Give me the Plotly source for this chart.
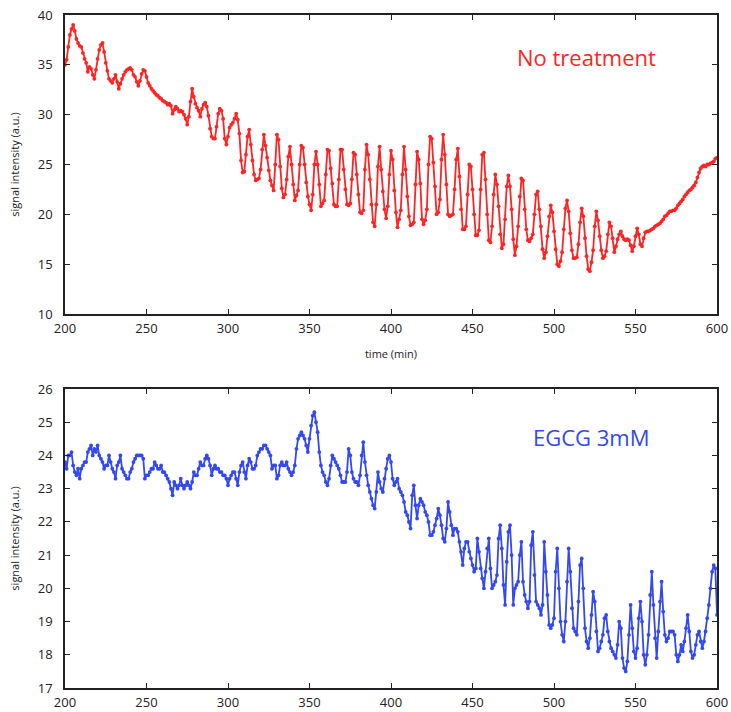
import plotly.graph_objects as go

time_min = list(range(200, 601))

no_treatment = [
    35.0, 35.5, 36.8, 38.0, 38.6, 39.0, 38.4, 37.6, 37.2, 36.9,
    36.8, 36.2, 35.6, 35.2, 34.3, 34.8, 34.6, 34.0, 33.6, 34.5,
    35.6, 36.5, 37.0, 37.2, 36.3, 35.2, 34.4, 33.6, 33.4, 33.2,
    33.6, 34.0, 33.3, 32.6, 33.1, 33.6, 34.0, 34.3, 34.5, 34.6,
    34.7, 34.5, 34.0, 33.8, 33.3, 32.9, 33.4, 34.1, 34.5, 34.4,
    33.8, 33.2, 32.9, 32.6, 32.4, 32.2, 32.0, 31.9, 31.7, 31.6,
    31.4, 31.3, 31.2, 31.0, 31.1, 30.9, 30.1, 30.5, 30.8, 30.6,
    30.3, 30.4, 30.3, 30.0, 29.6, 29.0, 29.8, 31.3, 32.6, 31.8,
    31.1, 30.7, 30.4, 29.8, 30.6, 31.0, 31.2, 30.8, 29.9, 28.6,
    27.8, 27.6, 27.6, 28.8, 30.1, 30.6, 30.4, 29.6, 27.6, 27.0,
    27.8, 28.7, 29.0, 29.2, 29.6, 30.1, 29.5, 28.1, 25.4, 24.2,
    24.3, 26.0, 27.8, 28.5, 27.0, 25.4, 24.0, 23.4, 23.5, 23.6,
    24.5, 26.5, 28.0, 26.9, 25.7, 24.4, 23.4, 22.9, 22.4, 25.0,
    28.0, 27.5, 24.8, 22.6, 21.7, 22.0, 23.5, 25.8, 26.8, 25.0,
    23.0, 21.4, 21.9, 22.4, 25.0, 26.9, 26.7, 25.0, 23.2, 21.8,
    21.0, 20.4, 22.0, 25.0, 26.3, 25.0, 23.0, 20.8, 21.1, 21.4,
    24.0, 26.5, 26.4, 24.6, 23.1, 21.0, 20.8, 20.8, 23.5, 26.5,
    26.5, 24.5, 22.5, 21.0, 20.9, 21.1, 23.5, 26.2, 26.0, 24.0,
    22.0, 20.2, 20.1, 20.4, 24.5, 27.0, 26.0, 23.5, 21.0, 19.2,
    18.8, 21.0, 24.8, 26.8, 24.5, 22.3, 20.5, 19.6, 20.8, 24.0,
    26.4, 25.5, 22.4, 20.2, 18.7, 19.5, 20.4, 24.0, 26.8, 24.5,
    21.8, 19.8, 18.9, 19.0, 19.2, 23.0, 26.3, 25.5, 23.1, 19.5,
    19.0, 19.4, 20.5, 25.0, 27.8, 27.6, 25.2, 22.8, 20.0, 20.2,
    21.5, 25.5, 28.0, 26.0, 23.0, 20.0, 19.8, 19.9, 20.0, 22.5,
    25.5, 26.6, 23.8, 20.5, 18.5, 18.5, 18.8, 22.0, 25.0, 24.8,
    22.5, 20.0, 17.9, 17.9, 18.4, 22.5, 26.0, 26.2, 23.5, 20.0,
    17.4, 17.2, 18.8, 22.0, 24.0, 23.0, 20.8, 18.0, 16.6, 17.0,
    19.5, 22.8, 23.9, 22.8, 20.5, 17.5, 15.9, 16.8, 18.8, 21.8,
    23.6, 23.4, 20.5, 18.5, 17.4, 17.3, 17.6, 18.0, 20.0, 22.0,
    22.3, 20.5, 18.8, 16.5, 15.6, 16.2, 17.8, 19.8, 20.9, 20.2,
    18.3, 16.5, 15.0, 14.8, 15.3, 16.2, 18.5, 20.6, 21.4, 20.3,
    18.1, 16.4, 15.6, 15.6, 15.7, 17.0, 19.2, 20.6, 19.8, 17.6,
    15.8, 14.5, 14.3, 15.2, 16.4, 18.8, 20.3, 19.4, 17.8, 16.4,
    15.6, 15.8, 16.3, 18.0, 19.2, 18.8, 17.6, 16.2, 16.8, 17.5,
    18.0, 18.3, 17.8, 17.5, 17.4, 17.5, 17.4, 16.9, 16.3, 16.8,
    17.8, 18.6, 18.0, 17.0, 16.8, 17.6, 18.2, 18.3, 18.3, 18.4,
    18.5, 18.6, 18.8, 18.9, 19.0, 19.1, 19.3, 19.5, 19.8, 19.9,
    20.1, 20.3, 20.3, 20.4, 20.4, 20.6, 20.9, 21.1, 21.3, 21.5,
    21.8, 22.0, 22.2, 22.4, 22.5, 22.7, 22.9, 23.2, 23.7, 24.2,
    24.6, 24.8, 24.9, 24.8, 25.0, 25.0, 25.1, 25.2, 25.3, 25.6,
    25.7,
]

egcg_3mm = [
    23.8, 23.6, 24.0, 24.0, 24.1, 23.7, 23.5, 23.4, 23.6, 23.3,
    23.6, 23.7, 23.8, 23.8, 24.1, 24.2, 24.3, 24.0, 24.2, 24.1,
    24.3, 24.0, 23.9, 23.8, 23.6, 23.7, 23.7, 24.0, 23.8, 23.6,
    23.5, 23.3, 23.7, 23.8, 24.0, 23.6, 23.5, 23.4, 23.3, 23.3,
    23.5, 23.6, 23.8, 23.9, 24.0, 24.0, 24.0, 24.0, 23.9, 23.3,
    23.4, 23.4, 23.5, 23.6, 23.6, 23.8, 23.7, 23.6, 23.6, 23.7,
    23.5, 23.5, 23.4, 23.3, 23.2, 23.0, 22.8, 23.2, 23.1, 23.0,
    23.1, 23.3, 23.1, 23.0, 23.1, 23.2, 23.1, 23.0, 23.2, 23.5,
    23.4, 23.4, 23.6, 23.8, 23.7, 23.7, 23.9, 24.0, 23.9, 23.7,
    23.4, 23.6, 23.7, 23.6, 23.6, 23.5, 23.5, 23.4, 23.4, 23.3,
    23.1, 23.3, 23.4, 23.5, 23.5, 23.3, 23.1, 23.5, 23.7, 23.8,
    23.5, 23.3, 23.7, 23.9, 23.8, 23.6, 23.6, 23.7, 24.0, 24.1,
    24.2, 24.2, 24.3, 24.3, 24.2, 24.1, 24.0, 23.6, 23.7, 23.7,
    23.3, 23.4, 23.7, 23.8, 23.7, 23.7, 23.8, 23.6, 23.5, 23.4,
    23.5, 23.7, 24.2, 24.5, 24.6, 24.7, 24.6, 24.5, 24.3, 24.1,
    24.5, 24.9, 25.2, 25.3, 25.0, 24.7, 24.1, 23.7, 23.5, 23.4,
    23.2, 23.1, 23.3, 23.7, 24.0, 23.9, 23.8, 23.7, 23.6, 23.4,
    23.2, 23.2, 23.2, 23.5, 24.2, 24.0, 23.5, 23.3, 23.2, 23.2,
    23.1, 23.4, 24.0, 24.4, 23.8, 23.4, 23.1, 22.9, 22.7, 22.5,
    22.4, 22.9, 23.5, 23.2, 23.0, 22.9, 23.3, 23.6, 23.9, 24.0,
    23.8, 23.3, 23.1, 23.2, 23.3, 23.0, 22.9, 22.8, 22.6, 22.3,
    22.2, 22.0, 21.8, 22.8, 23.1, 22.5, 22.1, 22.5, 22.7, 22.6,
    22.5, 22.3, 22.2, 22.0, 21.6, 21.6, 21.7, 21.9, 22.1, 22.4,
    22.2, 21.9, 21.5, 21.4, 21.8, 22.6, 22.3, 21.9, 21.6, 21.8,
    21.8, 21.7, 21.4, 21.1, 20.7, 21.2, 21.4, 21.4, 21.1, 20.9,
    20.7, 20.5, 20.6, 21.5, 21.1, 20.6, 20.3, 20.0, 20.5, 21.2,
    21.5, 20.6, 20.0, 20.1, 20.2, 20.4, 21.5, 21.9, 21.2, 20.1,
    19.5, 20.8, 21.7, 21.9, 21.0, 19.5, 20.0, 20.1, 20.2, 21.0,
    21.4, 20.2, 19.8, 19.6, 19.4, 19.6, 21.3, 21.7, 20.4, 19.6,
    19.5, 19.4, 19.2, 19.5, 21.4, 20.5, 19.8, 18.9, 18.8, 18.9,
    19.1, 20.5, 21.2, 20.0, 19.0, 18.6, 18.4, 19.0, 20.2, 21.2,
    20.5, 19.4, 18.8, 18.7, 18.6, 19.6, 20.7, 20.9, 20.0, 18.8,
    18.4, 18.2, 18.5, 19.2, 19.9, 19.6, 18.7, 18.1, 18.2, 18.4,
    18.6, 19.1, 19.2, 18.7, 18.4, 18.2, 18.1, 18.0, 17.9, 18.3,
    19.0, 18.8, 17.9, 17.6, 17.5, 17.8, 18.6, 19.5, 18.8, 18.1,
    17.9, 18.2, 19.1, 19.6, 19.0, 18.0, 17.7, 18.0, 18.6, 19.8,
    20.5, 19.5, 18.5, 17.9, 18.7, 19.6, 20.2, 19.3, 18.6, 18.4,
    18.5, 18.7, 18.7, 18.7, 18.6, 18.0, 17.8, 18.0, 18.3, 18.1,
    18.4, 18.8, 19.2, 18.7, 18.1, 17.9, 18.0, 18.3, 18.6, 18.7,
    18.4, 18.2, 18.4, 18.7, 19.1, 19.5, 20.0, 20.5, 20.7, 20.6,
    19.2,
]

x_ticks = [200, 250, 300, 350, 400, 450, 500, 550, 600]
top_y_ticks = [10, 15, 20, 25, 30, 35, 40]
bottom_y_ticks = [17, 18, 19, 20, 21, 22, 23, 24, 25, 26]

RED = "#ff2424"
BLUE = "#3348f2"
FONT = "Open Sans"

fig = go.Figure()
fig.add_trace(go.Scatter(
    x=time_min, y=no_treatment, mode="lines+markers",
    line=dict(color=RED, width=1.8), marker=dict(color=RED, size=3.8),
    xaxis="x", yaxis="y", showlegend=False, hoverinfo="skip",
))
fig.add_trace(go.Scatter(
    x=time_min, y=egcg_3mm, mode="lines+markers",
    line=dict(color=BLUE, width=1.8), marker=dict(color=BLUE, size=3.8),
    xaxis="x2", yaxis="y2", showlegend=False, hoverinfo="skip",
))

axis_common = dict(
    showline=True, linecolor="#222", linewidth=1.5, mirror="ticks",
    ticks="inside", ticklen=5, tickwidth=1.3, tickcolor="#222",
    showgrid=False, zeroline=False, automargin=False,
    tickfont=dict(family=FONT, size=13, color="#222"),
)

fig.update_layout(
    width=731, height=712,
    margin=dict(l=65, r=14, t=15, b=24),
    paper_bgcolor="white", plot_bgcolor="white",
    font=dict(family=FONT, color="#222"),
    xaxis=dict(domain=[0, 1], range=[200, 600], tickvals=x_ticks, anchor="y",
               ticklabelstandoff=2, ticklabeloverflow="allow",
               title=dict(text="time (min)", font=dict(family=FONT, size=11), standoff=14),
               **axis_common),
    yaxis=dict(domain=[0.5557, 1], range=[10, 40], tickvals=top_y_ticks, anchor="x",
               ticklabelstandoff=8, ticklabeloverflow="allow",
               title=dict(text="signal intensity (a.u.)", font=dict(family=FONT, size=11), standoff=16),
               **axis_common),
    xaxis2=dict(domain=[0, 1], range=[200, 600], tickvals=x_ticks, anchor="y2",
                ticklabelstandoff=2, ticklabeloverflow="allow",
                **axis_common),
    yaxis2=dict(domain=[0, 0.4443], range=[17, 26], tickvals=bottom_y_ticks, anchor="x2",
                ticklabelstandoff=8, ticklabeloverflow="allow",
                title=dict(text="signal intensity (a.u.)", font=dict(family=FONT, size=11), standoff=16),
                **axis_common),
    annotations=[
        dict(text="No treatment", x=520, y=35.8, xref="x", yref="y",
             showarrow=False, xanchor="center", yanchor="middle",
             font=dict(family=FONT, size=22, color=RED)),
        dict(text="EGCG 3mM", x=523, y=24.55, xref="x2", yref="y2",
             showarrow=False, xanchor="center", yanchor="middle",
             font=dict(family=FONT, size=22, color=BLUE)),
    ],
)

# remove the browser's default 8px body margin so the figure fills the window
fig.write_html(
    "out.html",
    config={"displayModeBar": False},
    post_script="document.body.style.margin='0';document.body.style.overflow='hidden';",
)
